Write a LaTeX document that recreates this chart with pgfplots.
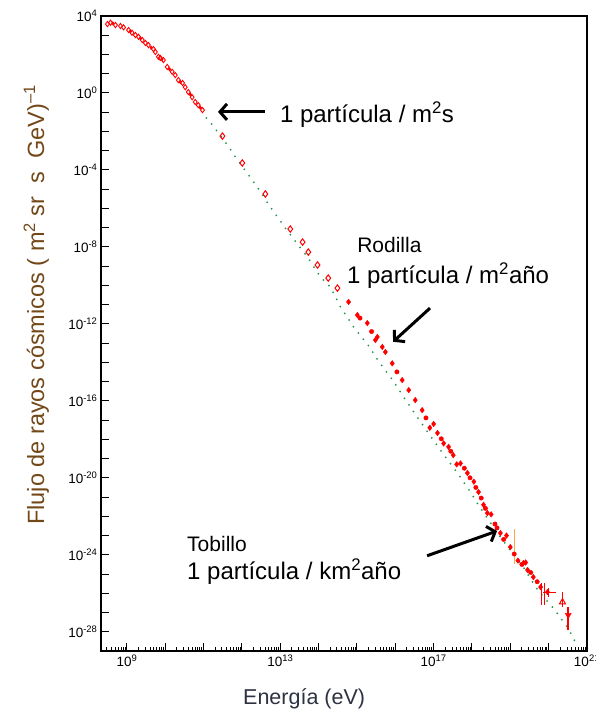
\documentclass[border=0pt]{standalone}
\usepackage{fontspec}
\setmainfont{Liberation Sans}
\usepackage{pgfplots}
\pgfplotsset{compat=1.18}
\usetikzlibrary{arrows.meta}
\definecolor{dotgreen}{RGB}{30,150,70}
\definecolor{ylabbrown}{RGB}{115,72,25}
\definecolor{xlabgray}{RGB}{45,50,65}

% minor ticks 2..9 of every decade on the energy axis
\def\minorx{2e8}
\foreach \ee in {8,...,20}{\foreach \mm in {2,...,9}{\xdef\minorx{\minorx,\mm e\ee}}}

\begin{document}
\begin{tikzpicture}
\begin{axis}[
  xmode=log, ymode=log,
  scale only axis, width=486pt, height=635pt,
  xmin=2.1e8, xmax=1e21, ymin=1e-29, ymax=1e4,
  axis line style={line width=1.3pt},
  tick pos=left, tick align=inside,
  major tick length=8pt, minor tick length=4.5pt,
  major tick style={black, line width=1pt},
  minor tick style={black, line width=0.9pt},
  xtick={1e9,1e10,1e11,1e12,1e13,1e14,1e15,1e16,1e17,1e18,1e19,1e20,1e21},
  xticklabels={10\textsuperscript{9},,,,10\textsuperscript{13},,,,10\textsuperscript{17},,,,10\textsuperscript{21}},
  minor xtick/.expanded={\minorx},
  ytick={1e-28,1e-27,1e-26,1e-25,1e-24,1e-23,1e-22,1e-21,1e-20,1e-19,1e-18,1e-17,1e-16,1e-15,1e-14,1e-13,1e-12,1e-11,1e-10,1e-9,1e-8,1e-7,1e-6,1e-5,1e-4,1e-3,1e-2,1e-1,1,1e1,1e2,1e3,1e4},
  yticklabels={10\textsuperscript{-28},,,,10\textsuperscript{-24},,,,10\textsuperscript{-20},,,,10\textsuperscript{-16},,,,10\textsuperscript{-12},,,,10\textsuperscript{-8},,,,10\textsuperscript{-4},,,,10\textsuperscript{0},,,,10\textsuperscript{4}},
  yminorticks=false,
  tick label style={font=\fontsize{13.5}{13.5}\selectfont},
  xlabel={Energía (eV)},
  ylabel={Flujo de rayos cósmicos ( m\textsuperscript{2} sr\ \ s\ \ GeV)\textsuperscript{–1}},
  x label style={at={(axis description cs:0.418,-0.0835)}, anchor=base,
                 font=\fontsize{21.5}{24}\selectfont, text=xlabgray},
  y label style={at={(axis description cs:-0.117,0.545)}, anchor=base,
                 font=\fontsize{23.5}{26}\selectfont, text=ylabbrown},
]
  % reference power law (green dots)
  \addplot[dotgreen, line width=2pt, line cap=round, dash pattern=on 0pt off 8pt] coordinates {
    (1.17e11,5.01e-2) (1.70e11,2.14e-2) (4.17e11,2.00e-3) (6.76e11,4.68e-4)
    (1.48e12,5.50e-5) (2.51e12,1.29e-5) (5.50e12,1.17e-6) (1.35e13,9.55e-8)
    (5.13e13,2.95e-9) (1.12e14,2.69e-10) (2.04e14,8.13e-11) (3.72e14,7.59e-12)
    (8.13e14,6.92e-13) (2.24e15,5.50e-14) (3.47e15,1.32e-14) (8.51e15,1.20e-15)
    (1.86e16,1.10e-16) (4.57e16,7.94e-18) (1.70e17,1.95e-19) (4.17e17,1.78e-20)
    (9.12e17,1.82e-21) (1.48e18,3.80e-22) (5.50e18,8.32e-24) (2.19e19,2.29e-25)
    (5.13e19,1.48e-26) (1.26e20,1.91e-27) (3.09e20,1.74e-28) (5.01e20,2.88e-29)
  };
  % low energy measurements
  \addplot[red, only marks, mark=diamond, mark size=2.6pt, mark options={draw=red, line width=0.9pt}] coordinates {
    (3.09e8,3.80e3) (3.72e8,4.47e3) (5.01e8,3.39e3) (6.76e8,3.02e3) (8.13e8,2.57e3)
    (1.10e9,1.86e3) (1.35e9,1.35e3) (1.66e9,1.02e3) (2.00e9,8.32e2) (2.51e9,5.62e2)
    (3.02e9,3.98e2) (3.63e9,3.09e2) (4.90e9,1.91e2) (5.50e9,1.35e2) (6.61e9,7.59e1)
    (7.41e9,6.61e1) (8.91e9,5.13e1) (1.12e10,2.24e1) (1.51e10,1.26e1) (1.82e10,8.51)
    (2.19e10,4.68) (2.82e10,3.31) (3.31e10,2.00) (3.98e10,1.12) (5.01e10,0.603)
    (6.03e10,0.339) (7.24e10,0.234) (9.33e10,0.129)
  };
  \addplot[red, only marks, mark=diamond*, mark size=1.8pt, mark options={draw=red, fill=red}] coordinates {
    (4.27e8,4.17e3) (1.23e9,1.58e3) (2.24e9,6.92e2) (4.27e9,2.24e2) (8.13e9,5.62e1)
    (1.29e10,1.70e1) (2.45e10,3.72) (4.47e10,0.851) (8.13e10,0.174)
  };
  \addplot[red, only marks, mark=diamond, mark size=3.2pt, mark options={draw=red, line width=1pt}] coordinates {
    (3.09e11,5.75e-3) (1.02e12,2.29e-4) (4.07e12,5.62e-6) (1.82e13,8.51e-8)
    (3.80e13,1.78e-8) (5.37e13,5.37e-9) (9.33e13,1.15e-9) (1.78e14,2.40e-10)
    (3.09e14,7.24e-11)
  };
  % knee and beyond
  \addplot[red, only marks, mark=diamond*, mark size=2.8pt, mark options={draw=red, fill=red}] coordinates {
    (6.03e14,1.38e-11) (1.02e15,2.88e-12) (1.86e15,1.10e-12) (3.02e15,1.45e-13)
    (3.39e15,2.09e-13) (4.57e15,6.31e-14) (5.50e15,3.47e-14) (8.32e15,8.91e-15)
    (1.51e16,1.20e-15) (2.24e16,3.63e-16) (3.31e16,1.10e-16) (5.01e16,3.31e-17)
    (7.94e16,3.98e-18) (1.00e17,6.31e-18) (1.26e17,2.14e-18) (1.82e17,6.17e-19)
    (2.45e17,4.07e-19) (3.24e17,1.51e-19) (3.98e17,5.01e-20) (5.01e17,5.62e-20)
    (7.59e17,1.78e-20) (1.12e18,6.31e-21) (1.48e18,1.82e-21) (2.00e18,3.98e-22)
    (2.51e18,1.48e-22) (3.16e18,1.26e-22) (5.50e18,1.35e-23) (7.94e18,1.00e-23)
    (1.00e19,2.51e-24) (1.58e19,5.01e-25) (2.19e19,3.72e-25) (2.51e19,3.98e-25)
    (2.82e19,1.62e-25) (3.98e19,6.92e-26) (6.17e19,2.09e-26) (9.33e19,1.15e-26)
  };
  \addplot[red, only marks, mark=*, mark size=2.2pt, mark options={draw=red, fill=red}] coordinates {
    (1.20e15,2.00e-12) (2.40e15,4.00e-13) (1.10e16,3.20e-15) (6.30e16,1.30e-17)
    (1.58e17,1.07e-18) (2.80e17,2.40e-19) (6.31e17,3.16e-20) (8.90e17,1.00e-20)
    (1.26e18,3.16e-21) (1.74e18,8.90e-22) (2.24e18,2.60e-22) (3.98e18,3.98e-23)
    (4.50e18,2.50e-23) (6.70e18,6.30e-24) (1.26e19,1.10e-24) (2.00e19,3.16e-25)
    (3.40e19,1.20e-25) (5.01e19,3.98e-26)
  };
  % error bars at the highest energies
  \addplot[orange!70, line width=1.2pt] coordinates {(1.26e19,2.19e-23) (1.26e19,3.31e-25)};
  \addplot[red, line width=1.3pt] coordinates {(6.46e19,3.39e-26) (6.46e19,2.45e-27)};
  \addplot[red, line width=1.3pt] coordinates {(7.76e19,3.39e-26) (7.76e19,2.45e-27)};
  \addplot[red, line width=1.3pt] coordinates {(9.77e19,1.86e-26) (9.77e19,6.31e-27)};
  \addplot[red, line width=1pt] coordinates {(7.24e19,1.15e-26) (1.51e20,1.15e-26)};
  \addplot[red, line width=1.3pt] coordinates {(2.29e20,1.15e-26) (2.29e20,1.91e-27)};
  \addplot[red, line width=1.5pt] coordinates {(3.24e20,1.91e-27) (3.24e20,1.23e-28)};
  \addplot[red, only marks, mark=triangle, mark size=3.5pt, mark options={draw=red, line width=1pt}] coordinates {(2.29e20,3.47e-27)};
  \addplot[red, only marks, mark=triangle*, mark size=3.5pt, mark options={draw=red, fill=red, rotate=180}] coordinates {(3.24e20,7.41e-28)};

  % annotations
  \draw[line width=3pt, -{Straight Barb[length=7pt,width=16pt]}]
    (rel axis cs:0.3374,0.849) -- (rel axis cs:0.2407,0.849);
  \node[anchor=base west, inner sep=0pt, font=\fontsize{24}{28}\selectfont]
    at (rel axis cs:0.368,0.833) {1 partícula / m\textsuperscript{2}s};
  \node[anchor=base west, inner sep=0pt, font=\fontsize{21}{24}\selectfont]
    at (rel axis cs:0.527,0.628) {Rodilla};
  \node[anchor=base west, inner sep=0pt, font=\fontsize{24}{28}\selectfont]
    at (rel axis cs:0.506,0.578) {1 partícula / m\textsuperscript{2}año};
  \draw[line width=3pt, -{Straight Barb[length=7pt,width=16pt]}]
    (rel axis cs:0.677,0.540) -- (rel axis cs:0.601,0.487);
  \node[anchor=base west, inner sep=0pt, font=\fontsize{21}{24}\selectfont]
    at (rel axis cs:0.177,0.157) {Tobillo};
  \node[anchor=base west, inner sep=0pt, font=\fontsize{24}{28}\selectfont]
    at (rel axis cs:0.177,0.112) {1 partícula / km\textsuperscript{2}año};
  \draw[line width=3pt, -{Straight Barb[length=7pt,width=16pt]}]
    (rel axis cs:0.671,0.150) -- (rel axis cs:0.815,0.189);

  \coordinate (bl) at (rel axis cs:0,0);
  \coordinate (tr) at (rel axis cs:1,1);
\end{axis}
\pgfresetboundingbox
\path[use as bounding box] ([xshift=-101pt,yshift=-58pt]bl) rectangle ([xshift=9pt,yshift=16pt]tr);
\end{tikzpicture}
\end{document}
